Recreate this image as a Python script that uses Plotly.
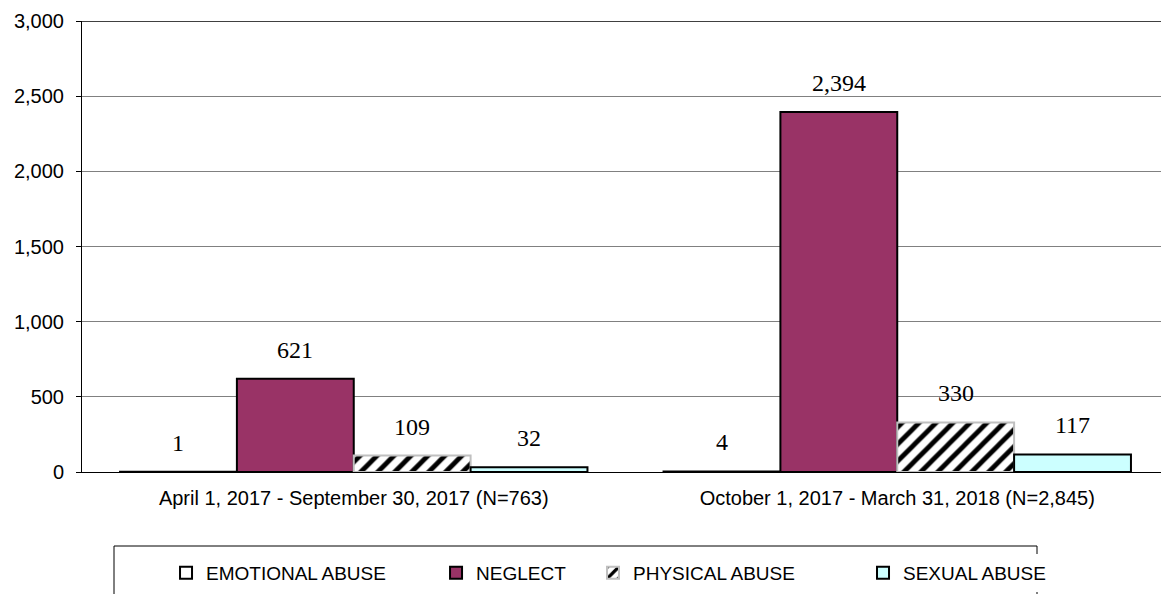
import plotly.graph_objects as go

periods = ["April 1, 2017 - September 30, 2017 (N=763)",
           "October 1, 2017 - March 31, 2018 (N=2,845)"]
emotional = [1, 4]
neglect = [621, 2394]
physical = [109, 330]
sexual = [32, 117]

series = [
    ("EMOTIONAL ABUSE", emotional, dict(color="white", line=dict(color="black", width=2))),
    ("NEGLECT", neglect, dict(color="#993366", line=dict(color="black", width=2))),
    ("PHYSICAL ABUSE", physical, dict(color="white", line=dict(color="#c0c0c0", width=2),
                                      pattern=dict(shape="/", fgcolor="#000000", fgopacity=1,
                                                   bgcolor="#ffffff", size=12, solidity=0.4))),
    ("SEXUAL ABUSE", sexual, dict(color="#ccffff", line=dict(color="black", width=2))),
]
# one legend per entry so the uneven spacing of the original can be kept
legend_ids = ["legend", "legend2", "legend3", "legend4"]
legend_x = [0.0773, 0.3257, 0.4701, 0.7185]

fig = go.Figure()
for (name, vals, mk), lid in zip(series, legend_ids):
    fig.add_trace(go.Bar(name=name, x=periods, y=vals, marker=mk, legend=lid,
                         showlegend=True))

# value labels placed above each bar (bar width ~117px)
bar_w = 1087 / 2 * 0.86 / 4
for i, (name, vals, mk) in enumerate(series):
    for p, v in zip(periods, vals):
        fig.add_annotation(x=p, y=v, text=f"{v:,}", showarrow=False,
                           xshift=(i - 1.5) * bar_w, yshift=29, yanchor="middle",
                           font=dict(family="Liberation Serif", size=24, color="black"))

fig.update_layout(
    barmode="group", bargap=0.14, bargroupgap=0,
    width=1169, height=594, showlegend=True,
    margin=dict(l=74, r=8, t=13, b=130, autoexpand=False),
    plot_bgcolor="white", paper_bgcolor="white",
    font=dict(family="Liberation Sans", size=19, color="black"),
    xaxis=dict(showline=True, linecolor="black", tickfont=dict(size=20),
               ticklabelstandoff=8),
    yaxis=dict(range=[0, 3000], dtick=500, tickformat=",", showgrid=True,
               gridcolor="#808080", showline=True, linecolor="black",
               ticks="outside", ticklen=5, tickcolor="black", zeroline=False,
               tickfont=dict(size=20), ticklabelstandoff=8),
)
for lid, lx in zip(legend_ids, legend_x):
    fig.update_layout({lid: dict(orientation="h", x=lx, xanchor="left", yref="container",
                                 y=0.081, yanchor="top", borderwidth=0,
                                 font=dict(size=19), itemwidth=30)})
fig.add_hline(y=3000, line=dict(color="black", width=1.5))
# legend frame
fig.add_shape(type="rect", xref="paper", yref="paper", x0=32 / 1087, x1=955 / 1087,
              y0=-0.30, y1=-74 / 451, line=dict(color="black", width=1))
fig.write_html("out.html")
